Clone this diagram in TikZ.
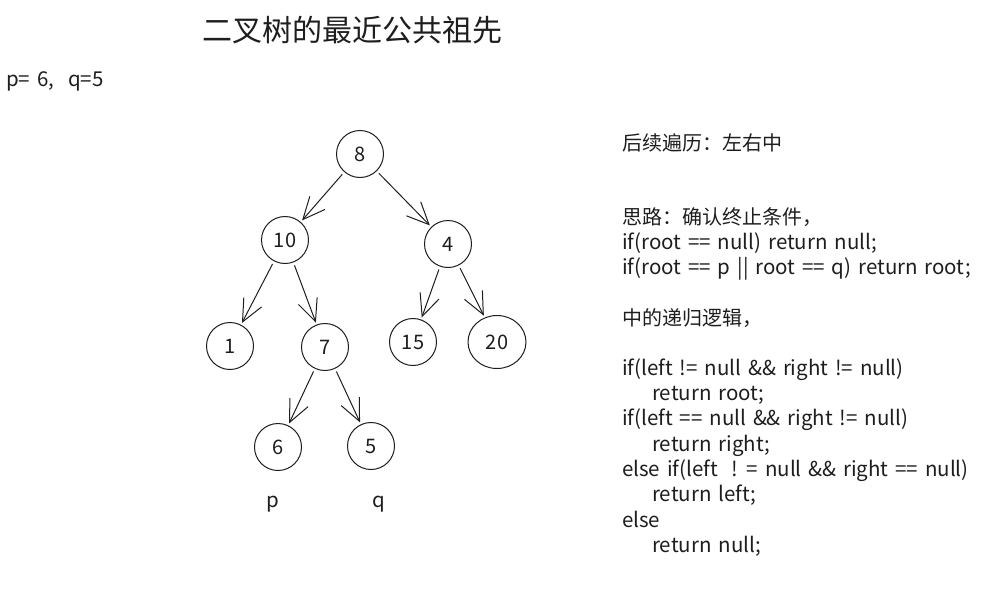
\documentclass[tikz,border=0pt]{standalone}
\usepackage{fontspec}
\setmainfont{Noto Sans CJK SC}
\newfontfamily\latfont{Noto Sans CJK SC}[WordSpace=1.5]
\usetikzlibrary{arrows.meta,shapes.geometric}
\definecolor{inkc}{HTML}{1E1E1E}
\begin{document}
\begin{tikzpicture}[x=1pt,y=-1pt,
  tnode/.style={circle, draw=inkc, line width=1pt, minimum size=47pt, inner sep=0pt, font=\fontsize{20}{24}\selectfont, text=inkc},
  edge/.style={draw=inkc, line width=1pt, -{Straight Barb[length=22pt,width=20pt]}, shorten <=3pt, shorten >=2pt},
  txt/.style={anchor=base west, inner sep=0pt, font=\fontsize{20}{24}\selectfont, text=inkc},
  ltxt/.style={anchor=base west, inner sep=0pt, font=\latfont\fontsize{20.5}{24}\selectfont, text=inkc}]
\useasboundingbox (0,0) rectangle (999,592);
\fill[white] (0,0) rectangle (999,592);
% title
\node[anchor=base, inner sep=0pt, font=\fontsize{30}{36}\selectfont, text=inkc] (title) at (352,41) {二叉树的最近公共祖先};
\node[ltxt] (pq) at (6,86) {p= 6,\ \ q=5};
% tree
\node[tnode] (n8) at (360,154) {8};
\node[tnode] (n10) at (285,240) {10};
\node[tnode] (n4) at (448,244) {4};
\node[tnode] (n1) at (230,346) {1};
\node[tnode] (n7) at (325,347) {7};
\node[tnode] (n15) at (413,342) {15};
\node[ellipse, draw=inkc, line width=1pt, minimum width=58pt, minimum height=53pt, inner sep=0pt, font=\fontsize{20}{24}\selectfont, text=inkc] (n20) at (497,342) {20};
\node[tnode] (n6) at (278,447) {6};
\node[tnode] (n5) at (371,446) {5};
\draw[edge] (n8) -- (n10);
\draw[edge] (n8) -- (n4);
\draw[edge] (n10) -- (n1);
\draw[edge] (n10) -- (n7);
\draw[edge] (n4) -- (n15);
\draw[edge] (n4) -- (n20);
\draw[edge] (n7) -- (n6);
\draw[edge] (n7) -- (n5);
\node[ltxt] (lp) at (266,507) {p};
\node[ltxt] (lq) at (372,507) {q};
% right text
\node[txt] (r0) at (622,150) {后续遍历：左右中};
\node[txt] (r1) at (622,224) {思路：确认终止条件，};
\node[ltxt] (r2) at (622,249) {if(root == null) return null;};
\node[ltxt] (r3) at (622,274) {if(root == p || root == q) return root;};
\node[txt] (r4) at (622,325) {中的递归逻辑，};
\node[ltxt] (r5) at (622,375) {if(left != null \&\& right != null)};
\node[ltxt] (r6) at (652,400) {return root;};
\node[ltxt] (r7) at (622,425) {if(left == null \&\& right != null)};
\node[ltxt] (r8) at (652,451) {return right;};
\node[ltxt] (r9) at (622,476) {else if(left\ \ ! = null \&\& right == null)};
\node[ltxt] (r10) at (652,501) {return left;};
\node[ltxt] (r11) at (622,527) {else};
\node[ltxt] (r12) at (652,552) {return null;};
\end{tikzpicture}
\end{document}
